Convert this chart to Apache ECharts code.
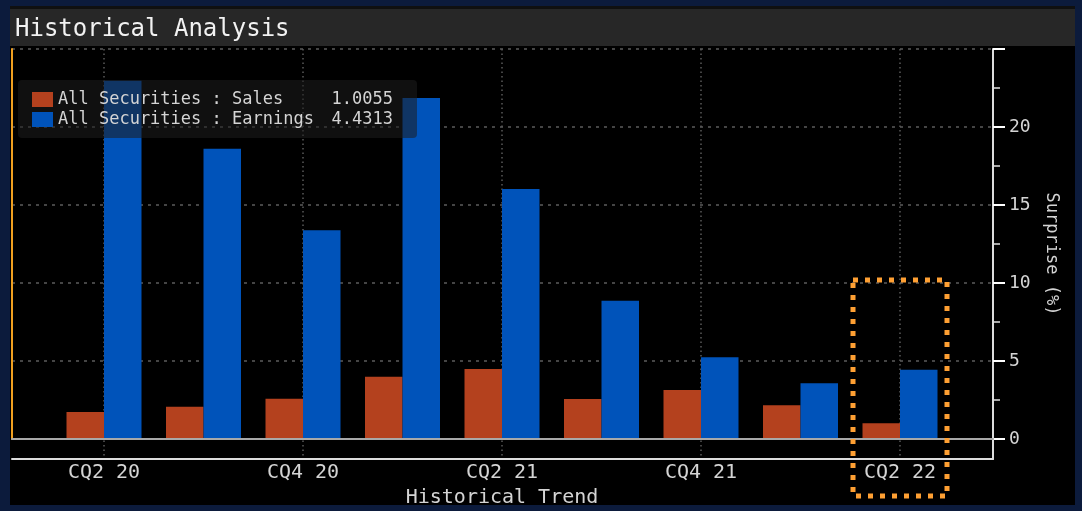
<!DOCTYPE html>
<html><head><meta charset="utf-8">
<script src="https://cdn.jsdelivr.net/npm/echarts@6/dist/echarts.min.js"></script>
<style>html,body{margin:0;padding:0;background:#0c1b3c;}#c{width:1082px;height:511px;}</style>
</head><body><div id="c"></div>
<script>
const categories = ['CQ2 20','CQ3 20','CQ4 20','CQ1 21','CQ2 21','CQ3 21','CQ4 21','CQ1 22','CQ2 22'];
const salesSurprise = [1.73, 2.07, 2.58, 3.99, 4.49, 2.56, 3.14, 2.16, 1.0055];
const earningsSurprise = [22.97, 18.61, 13.38, 21.86, 16.03, 8.87, 5.24, 3.57, 4.4313];
const seriesNames = ['All Securities : Sales', 'All Securities : Earnings'];
const yMax = 25, yStep = 5;

const MONO = '"DejaVu Sans Mono", "Liberation Mono", monospace';
const TXT = '#d4d4d4';
const yMinExt = -yMax * 20 / 390;   // frame extends 20px below zero line
const lastVals = {};
lastVals[seriesNames[0]] = salesSurprise[salesSurprise.length - 1];
lastVals[seriesNames[1]] = earningsSurprise[earningsSurprise.length - 1];

const chart = echarts.init(document.getElementById('c'), null, {renderer: 'canvas'});
chart.setOption({
  backgroundColor: '#0c1b3c',
  animation: false,
  graphic: [
    {type: 'rect', z: -10, silent: true, shape: {x: 10, y: 46, width: 1065, height: 459}, style: {fill: '#000000'}},
    {type: 'rect', z: -10, silent: true, shape: {x: 10, y: 8, width: 1065, height: 38}, style: {fill: '#272727'}},
    {type: 'rect', z: -10, silent: true, shape: {x: 10, y: 6, width: 1065, height: 3}, style: {fill: '#101010'}},
    {type: 'rect', z: 100, silent: true, shape: {x: 853, y: 280, width: 94, height: 216},
      style: {fill: 'none', stroke: '#ffa033', lineWidth: 5, lineDash: [5, 7]}}
  ],
  title: {
    text: 'Historical Analysis', left: 15, top: 18, padding: 0,
    textStyle: {color: '#f2f2f2', fontFamily: MONO, fontSize: 24, fontWeight: 'normal'}
  },
  legend: {
    orient: 'vertical', left: 18, top: 80,
    padding: [11, 24, 10, 14], itemGap: 3,
    itemWidth: 21, itemHeight: 15, icon: 'rect',
    backgroundColor: 'rgba(30,30,30,0.55)', borderRadius: 4,
    data: seriesNames,
    formatter: function (name) { return '{a|' + name + '}{b|' + lastVals[name].toFixed(4) + '}'; },
    textStyle: {
      color: TXT, fontFamily: MONO, fontSize: 17,
      rich: {
        a: {color: TXT, fontFamily: MONO, fontSize: 17, width: 268},
        b: {color: TXT, fontFamily: MONO, fontSize: 17, width: 67, align: 'right'}
      }
    }
  },
  grid: [
    {left: 12, right: 89, top: 49, bottom: 52, outerBoundsMode: 'none'},
    {left: 12, right: 89, top: 49, bottom: 72, outerBoundsMode: 'none'},
    {left: 104, right: 182, top: 49, bottom: 52, outerBoundsMode: 'none'}
  ],
  xAxis: [
    {type: 'value', gridIndex: 0, min: 0, max: 1, position: 'bottom',
      axisLine: {show: true, onZero: false, lineStyle: {color: '#dcdcdc', width: 2}},
      axisTick: {show: false}, axisLabel: {show: false}, splitLine: {show: false}},
    {type: 'value', gridIndex: 1, min: 0, max: 1, position: 'bottom', z: 5,
      axisLine: {show: true, onZero: false, lineStyle: {color: '#a8a8a8', width: 2}},
      axisTick: {show: false}, axisLabel: {show: false}, splitLine: {show: false}},
    {type: 'category', gridIndex: 2, data: categories, boundaryGap: false, position: 'bottom',
      axisLine: {show: false},
      axisTick: {show: true, inside: true, length: 4, interval: 1, lineStyle: {color: '#ffffff', width: 2}},
      axisLabel: {interval: 1, color: TXT, fontFamily: MONO, fontSize: 20, margin: 4},
      splitLine: {show: true, interval: 1, lineStyle: {color: '#5a5a5a', width: 1.5, type: [1.5, 3]}},
      name: 'Historical Trend', nameLocation: 'middle', nameGap: 22,
      nameTextStyle: {color: TXT, fontFamily: MONO, fontSize: 20}}
  ],
  yAxis: [
    {type: 'value', gridIndex: 0, position: 'right', min: yMinExt, max: yMax,
      axisLine: {show: true, onZero: false, lineStyle: {color: '#dcdcdc', width: 2}},
      axisTick: {show: false}, axisLabel: {show: false}, splitLine: {show: false},
      name: 'Surprise (%)', nameLocation: 'middle', nameRotate: -90, nameGap: 50,
      nameTextStyle: {color: TXT, fontFamily: MONO, fontSize: 17}},
    {type: 'value', gridIndex: 1, position: 'right', min: 0, max: yMax, interval: yStep,
      axisLine: {show: false, onZero: false},
      axisTick: {show: true, length: 12, lineStyle: {color: '#ffffff', width: 2}},
      minorTick: {show: true, splitNumber: 2, length: 7, lineStyle: {color: '#e0e0e0', width: 1.5}},
      axisLabel: {color: TXT, fontFamily: MONO, fontSize: 18, margin: 16, showMaxLabel: false},
      splitLine: {show: true, lineStyle: {color: '#5c5c5c', width: 1.5, type: [3, 5]}}},
    {type: 'value', gridIndex: 1, position: 'left', min: 0, max: yMax,
      axisLine: {show: true, onZero: false, lineStyle: {color: '#f0a020', width: 2}},
      axisTick: {show: false}, axisLabel: {show: false}, splitLine: {show: false}},
    {type: 'value', gridIndex: 2, show: false, min: yMinExt, max: yMax}
  ],
  series: [
    {name: seriesNames[0], type: 'bar', xAxisIndex: 2, yAxisIndex: 3, data: salesSurprise,
      barWidth: 37.5, barGap: '0%', clip: false, itemStyle: {color: '#b4411e'}},
    {name: seriesNames[1], type: 'bar', xAxisIndex: 2, yAxisIndex: 3, data: earningsSurprise,
      barWidth: 37.5, barGap: '0%', clip: false, itemStyle: {color: '#0053ba'}}
  ]
});
</script></body></html>
